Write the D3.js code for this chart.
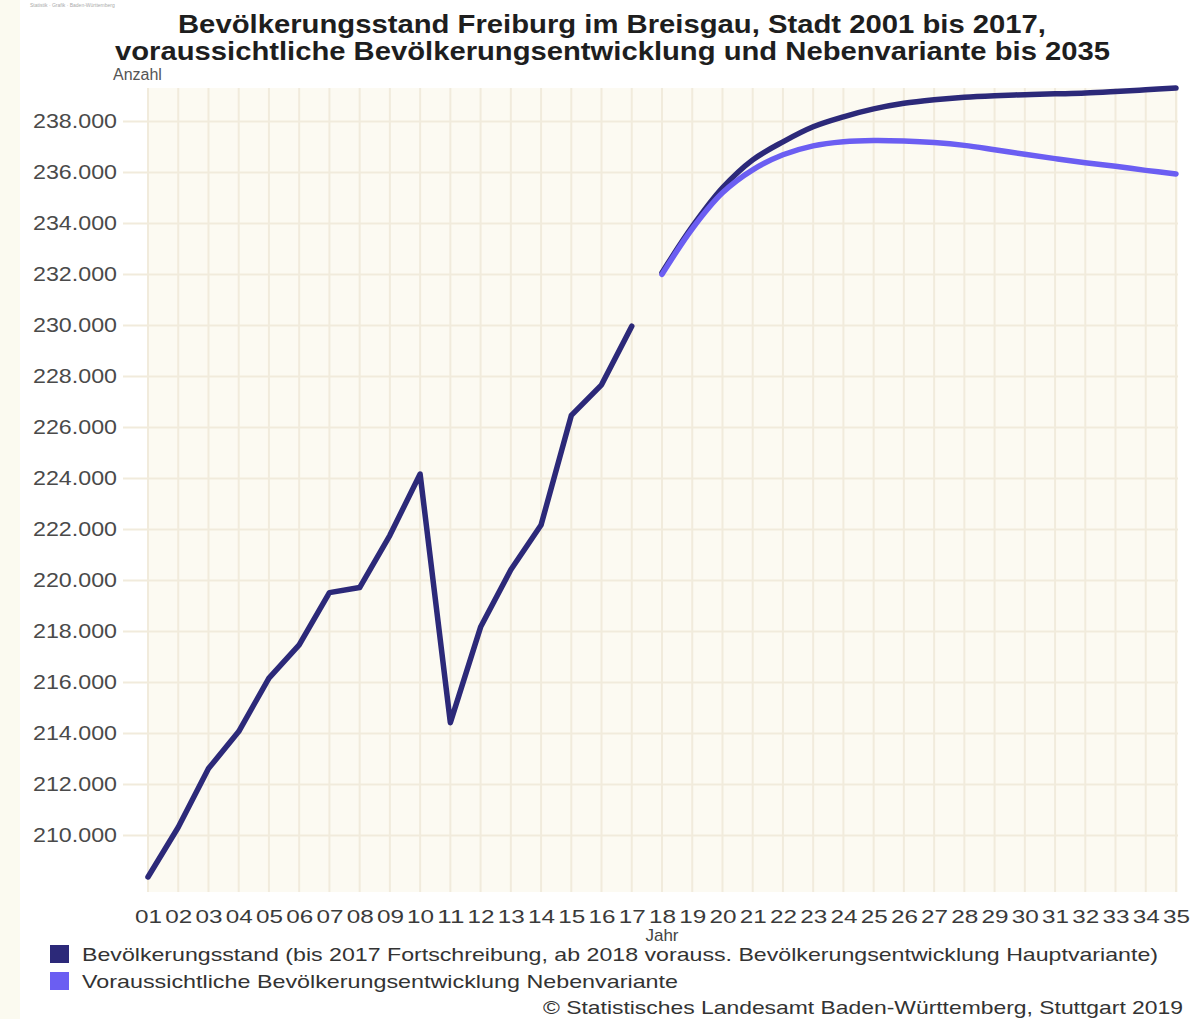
<!DOCTYPE html>
<html>
<head>
<meta charset="utf-8">
<script src="https://cdn.jsdelivr.net/npm/d3@7"></script>
<style>
  body { margin: 0; background: #fff; }
  svg text { font-family: "Liberation Sans", Arial, sans-serif; }
</style>
</head>
<body>
<svg id="chart" width="1194" height="1019"></svg>
<script>
// data
var years = ["01","02","03","04","05","06","07","08","09","10","11","12","13","14","15","16","17",
             "18","19","20","21","22","23","24","25","26","27","28","29","30","31","32","33","34","35"];
var histYears = years.slice(0, 17);
var progYears = years.slice(17);
var bestand = [208350, 210300, 212600, 214050, 216150, 217450, 219500, 219700, 221750, 224150,
               214400, 218150, 220400, 222150, 226450, 227650, 229950];
var haupt = [232050, 233850, 235370, 236470, 237180, 237770, 238160, 238470, 238690, 238830,
             238930, 238990, 239030, 239060, 239090, 239150, 239220, 239290];
var neben = [231980, 233770, 235180, 236080, 236670, 237020, 237180, 237230, 237210, 237150,
             237040, 236870, 236690, 236520, 236360, 236220, 236060, 235920];
var yTicks = d3.range(210000, 238001, 2000);
var legendLabels = [
  "Bevölkerungsstand (bis 2017 Fortschreibung, ab 2018 vorauss. Bevölkerungsentwicklung Hauptvariante)",
  "Voraussichtliche Bevölkerungsentwicklung Nebenvariante"
];
var colours = ["#2c2979", "#6b5ef2"];

var svg = d3.select("#chart");

var plot = { left: 148, right: 1178, top: 88, bottom: 892 };

var x = d3.scalePoint()
    .domain(years)
    .range([plot.left, 1176]);

var y = d3.scaleLinear()
    .domain([207760, 239290])
    .range([plot.bottom, plot.top]);

var de = d3.formatLocale({ decimal: ",", thousands: ".", grouping: [3], currency: ["", " €"] });

// left cream strip of the screenshot
svg.append("rect")
    .attr("x", 0).attr("y", 0).attr("width", 20).attr("height", 1019)
    .attr("fill", "#fbfaf0");
svg.append("text")
    .attr("x", 30).attr("y", 7)
    .attr("font-size", 5).attr("fill", "#aaa")
    .text("Statistik  \u00b7  Grafik  \u00b7  Baden-W\u00fcrttemberg");

// plot background
svg.append("rect")
    .attr("x", plot.left).attr("y", plot.top)
    .attr("width", plot.right - plot.left).attr("height", plot.bottom - plot.top)
    .attr("fill", "#fcfaf2");

// vertical grid
svg.append("g").selectAll("line")
    .data(years)
    .enter().append("line")
    .attr("x1", function(d) { return x(d); })
    .attr("x2", function(d) { return x(d); })
    .attr("y1", plot.top).attr("y2", plot.bottom)
    .attr("stroke", "#f1ebdc").attr("stroke-width", 2);

// y axis with horizontal grid
var yAxis = svg.append("g")
    .attr("transform", "translate(" + plot.right + ",0)")
    .call(d3.axisLeft(y)
        .tickValues(yTicks)
        .tickSize(plot.right - 123)
        .tickPadding(6)
        .tickFormat(de.format(",d")));
yAxis.select(".domain").remove();
yAxis.selectAll(".tick line").attr("stroke", "#f1ebdc").attr("stroke-width", 2);
yAxis.selectAll(".tick text")
    .attr("font-size", 21).attr("fill", "#4a4a4a")
    .attr("textLength", 84).attr("lengthAdjust", "spacingAndGlyphs");

// x axis
var xAxis = svg.append("g")
    .attr("transform", "translate(0," + plot.bottom + ")")
    .call(d3.axisBottom(x).tickSize(0).tickPadding(18));
xAxis.select(".domain").remove();
xAxis.selectAll(".tick text")
    .attr("font-size", 19).attr("fill", "#3a3a3a")
    .attr("textLength", 27).attr("lengthAdjust", "spacingAndGlyphs");

// lines
var line = d3.line()
    .x(function(d) { return x(d[0]); })
    .y(function(d) { return y(d[1]); });
var smooth = d3.line()
    .curve(d3.curveCatmullRom.alpha(0.5))
    .x(function(d) { return x(d[0]); })
    .y(function(d) { return y(d[1]); });

svg.append("path")
    .datum(d3.zip(histYears, bestand))
    .attr("d", line)
    .attr("fill", "none").attr("stroke", colours[0])
    .attr("stroke-width", 5.5).attr("stroke-linejoin", "round").attr("stroke-linecap", "round");

svg.append("path")
    .datum(d3.zip(progYears, haupt))
    .attr("d", smooth)
    .attr("fill", "none").attr("stroke", colours[0])
    .attr("stroke-width", 5.5).attr("stroke-linecap", "round");

svg.append("path")
    .datum(d3.zip(progYears, neben))
    .attr("d", smooth)
    .attr("fill", "none").attr("stroke", colours[1])
    .attr("stroke-width", 5.5).attr("stroke-linecap", "round");

// title
var title = svg.append("g").attr("font-weight", "bold").attr("fill", "#1e1e1e").attr("font-size", 25);
title.append("text")
    .attr("x", 178).attr("y", 33)
    .attr("textLength", 868).attr("lengthAdjust", "spacingAndGlyphs")
    .text("Bevölkerungsstand Freiburg im Breisgau, Stadt 2001 bis 2017,");
title.append("text")
    .attr("x", 115).attr("y", 60)
    .attr("textLength", 995).attr("lengthAdjust", "spacingAndGlyphs")
    .text("voraussichtliche Bevölkerungsentwicklung und Nebenvariante bis 2035");

svg.append("text")
    .attr("x", 113).attr("y", 80)
    .attr("font-size", 16).attr("fill", "#555")
    .text("Anzahl");

svg.append("text")
    .attr("x", (plot.left + 1176) / 2).attr("y", 941)
    .attr("text-anchor", "middle")
    .attr("font-size", 17).attr("fill", "#444")
    .text("Jahr");

// legend
var legend = svg.append("g").selectAll("g")
    .data(legendLabels)
    .enter().append("g")
    .attr("transform", function(d, i) { return "translate(50," + (945 + i * 27) + ")"; });
legend.append("rect")
    .attr("width", 19).attr("height", 18)
    .attr("fill", function(d, i) { return colours[i]; });
legend.append("text")
    .attr("x", 32).attr("y", 16)
    .attr("font-size", 19).attr("fill", "#333")
    .attr("textLength", function(d, i) { return i === 0 ? 1076 : 596; })
    .attr("lengthAdjust", "spacingAndGlyphs")
    .text(function(d) { return d; });

svg.append("text")
    .attr("x", 1183).attr("y", 1014)
    .attr("text-anchor", "end")
    .attr("font-size", 19).attr("fill", "#333")
    .attr("textLength", 640).attr("lengthAdjust", "spacingAndGlyphs")
    .text("© Statistisches Landesamt Baden-Württemberg, Stuttgart 2019");
</script>
</body>
</html>
